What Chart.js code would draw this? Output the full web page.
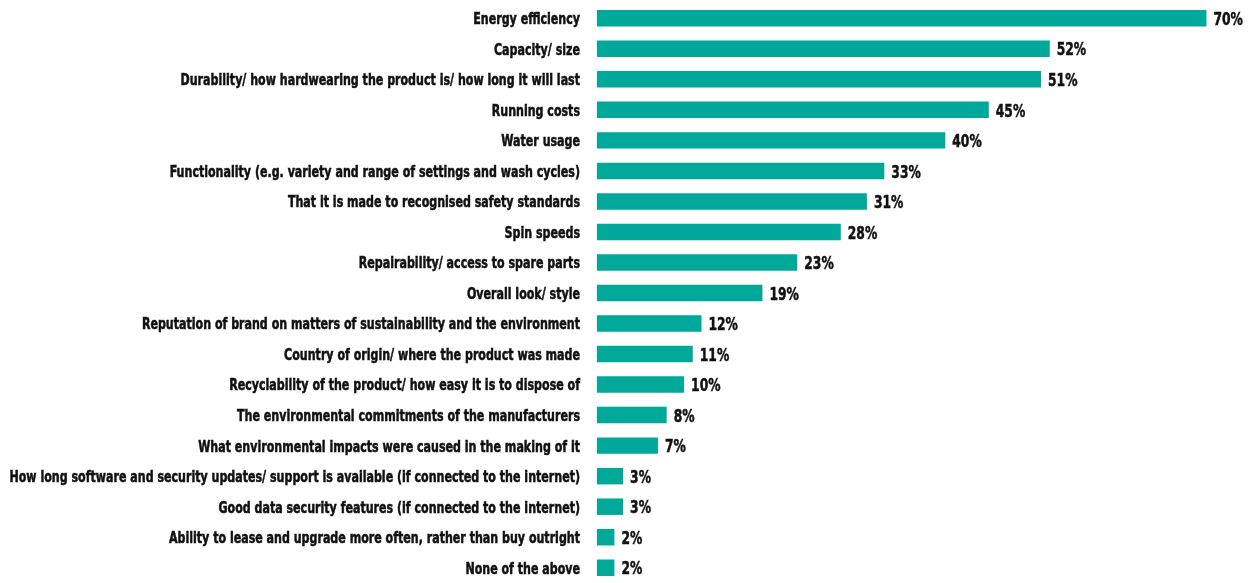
<!DOCTYPE html>
<html>
<head>
<meta charset="utf-8">
<script src="https://cdn.jsdelivr.net/npm/chart.js@4"></script>
<style>
  html, body { margin: 0; padding: 0; background: #fff; }
  #wrap { width: 1250px; height: 583px; }
</style>
</head>
<body>
<div id="wrap"><canvas id="featuresChart"></canvas></div>
<script>
const categories = [
  'Energy efficiency',
  'Capacity/ size',
  'Durability/ how hardwearing the product is/ how long it will last',
  'Running costs',
  'Water usage',
  'Functionality (e.g. variety and range of settings and wash cycles)',
  'That it is made to recognised safety standards',
  'Spin speeds',
  'Repairability/ access to spare parts',
  'Overall look/ style',
  'Reputation of brand on matters of sustainability and the environment',
  'Country of origin/ where the product was made',
  'Recyclability of the product/ how easy it is to dispose of',
  'The environmental commitments of the manufacturers',
  'What environmental impacts were caused in the making of it',
  'How long software and security updates/ support is available (if connected to the internet)',
  'Good data security features (if connected to the internet)',
  'Ability to lease and upgrade more often, rather than buy outright',
  'None of the above'
];
const shares = [70, 52, 51, 45, 40, 33, 31, 28, 23, 19, 12, 11, 10, 8, 7, 3, 3, 2, 2];

const FONT = '"DejaVu Sans Condensed", "DejaVu Sans", sans-serif';

// draw text squeezed horizontally to get a narrow heavy face
function narrowText(ctx, text, x, y, squeeze) {
  ctx.save();
  ctx.translate(x, y);
  ctx.scale(squeeze, 1);
  ctx.fillText(text, 0, 0);
  ctx.strokeText(text, 0, 0);
  ctx.restore();
}

// category names on the left, percentages at the end of each bar
const barText = {
  id: 'barText',
  afterDatasetsDraw(chart) {
    const ctx = chart.ctx;
    const yScale = chart.scales.y;
    const meta = chart.getDatasetMeta(0);
    ctx.save();
    ctx.fillStyle = '#111';
    ctx.strokeStyle = '#111';
    ctx.lineWidth = 0.5;
    ctx.textBaseline = 'middle';

    ctx.font = 'bold 15px ' + FONT;
    ctx.textAlign = 'right';
    categories.forEach(function(name, i) {
      narrowText(ctx, name, 580, yScale.getPixelForTick(i) + 2, 0.82);
    });

    ctx.font = 'bold 18px ' + FONT;
    ctx.textAlign = 'left';
    meta.data.forEach(function(bar, i) {
      narrowText(ctx, shares[i] + '%', bar.x + 7, bar.y + 2, 0.76);
    });
    ctx.restore();
  }
};

const ctx = document.getElementById('featuresChart').getContext('2d');
const chart = new Chart(ctx, {
  type: 'bar',
  data: {
    labels: categories,
    datasets: [{
      data: shares,
      backgroundColor: '#00a89a',
      barPercentage: 0.54,
      categoryPercentage: 1
    }]
  },
  options: {
    indexAxis: 'y',
    responsive: true,
    maintainAspectRatio: false,
    animation: false,
    layout: { padding: { top: 3, bottom: -4, left: 0, right: 0 } },
    plugins: {
      legend: { display: false },
      tooltip: { enabled: false }
    },
    scales: {
      x: {
        display: false,
        min: 0,
        max: 75
      },
      y: {
        afterFit(scale) { scale.width = 597; },
        grid: { display: false, drawTicks: false },
        border: { display: false },
        ticks: { display: false }
      }
    }
  },
  plugins: [barText]
});
</script>
</body>
</html>
